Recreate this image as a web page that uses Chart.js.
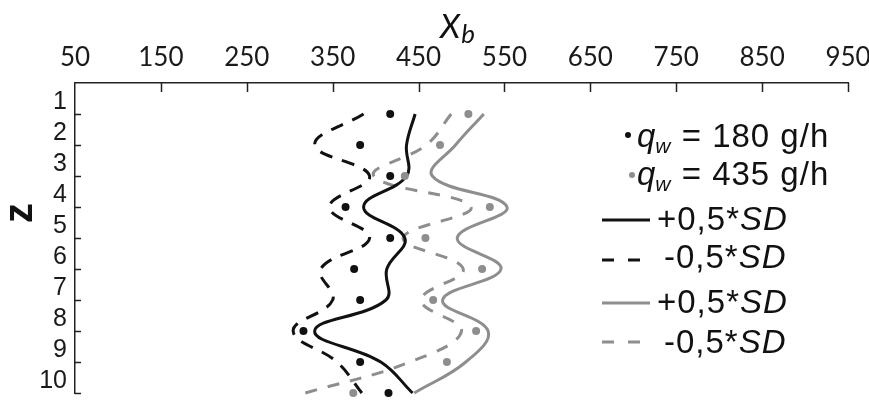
<!DOCTYPE html>
<html>
<head>
<meta charset="utf-8">
<script src="https://cdn.jsdelivr.net/npm/chart.js@4/dist/chart.umd.min.js"></script>
<style>
  html, body { margin: 0; padding: 0; background: #ffffff; }
  canvas { display: block; }
</style>
</head>
<body>
<canvas id="chart" width="869" height="403"></canvas>
<script>
// Layer index z (1 = top) and the measured X_b profile for two water flow rates
const zLevels = [1, 2, 3, 4, 5, 6, 7, 8, 9, 10];
const xTicks = [50, 150, 250, 350, 450, 550, 650, 750, 850, 950];

// q_w = 180 g/h
const mean180 = [417, 382, 417, 365, 417, 375, 382, 316, 382, 415];
const plusSD180 = [446, 436, 436, 386, 434, 413, 412, 329, 406, 443];
const minusSD180 = [386, 329, 393, 346, 393, 336, 350, 304, 355, 384];

// q_w = 435 g/h
const mean435 = [508, 475, 434, 533, 458, 524, 467, 517, 483, 374];
const plusSD435 = [526, 493, 466, 553, 495, 546, 478, 531, 505, 445];
const minusSD435 = [488, 459, 398, 511, 432, 502, 453, 500, 440, 318];

const BLACK = '#111111';
const GREY = '#8e8e8e';

const toPoints = (vals) => vals.map((v, i) => ({ x: v, y: zLevels[i] }));

function dotSet(label, vals, color) {
  return {
    label, data: toPoints(vals), showLine: false,
    pointRadius: 4, pointHoverRadius: 4, pointBorderWidth: 0,
    pointBackgroundColor: color, borderColor: color, clip: false
  };
}
function curveSet(label, vals, color, dash) {
  return {
    label, data: toPoints(vals), showLine: true, pointRadius: 0,
    borderColor: color, borderWidth: 3, borderDash: dash || [],
    tension: 0.4, clip: false, fill: false
  };
}

// Inside tick marks, axis titles and the legend block
const decorations = {
  id: 'decorations',
  afterDraw(chart) {
    const ctx = chart.ctx;
    const xs = chart.scales.x, ys = chart.scales.y;
    const area = chart.chartArea;
    ctx.save();
    ctx.strokeStyle = '#222';
    ctx.lineWidth = 1.5;
    xTicks.slice(1).forEach(v => {
      const px = Math.round(xs.getPixelForValue(v)) + 0.5;
      ctx.beginPath(); ctx.moveTo(px, area.top); ctx.lineTo(px, area.top + 9); ctx.stroke();
    });
    zLevels.forEach(z => {
      const py = Math.round(ys.getPixelForValue(z)) + 0.5;
      ctx.beginPath(); ctx.moveTo(area.left, py); ctx.lineTo(area.left + 6, py); ctx.stroke();
    });

    // X_b title
    ctx.fillStyle = '#111';
    ctx.textBaseline = 'alphabetic';
    ctx.textAlign = 'left';
    const cx = (area.left + area.right) / 2;
    ctx.font = 'italic 33px Lato';
    const wX = ctx.measureText('X').width;
    ctx.font = 'italic 26px Lato';
    const wb = ctx.measureText('b').width;
    const startX = cx - (wX + wb + 1) / 2 - 4;
    ctx.font = 'italic 33px Lato';
    ctx.fillText('X', startX, 38);
    ctx.font = 'italic 26px Lato';
    ctx.fillText('b', startX + wX + 1, 43);

    // z title, rotated
    ctx.save();
    ctx.translate(21, 213);
    ctx.rotate(-Math.PI / 2);
    ctx.font = 'bold 40px "Liberation Sans"';
    ctx.textAlign = 'center';
    ctx.textBaseline = 'middle';
    ctx.fillText('z', 0, 0);
    ctx.restore();

    // Legend (text set with slight extra tracking)
    const F = '"Liberation Sans"';
    const TRACK = 1;
    function runs(x, base, parts) {
      let cur = x;
      parts.forEach(p => {
        ctx.font = p.f;
        ctx.fillStyle = '#111';
        for (const ch of p.t) {
          ctx.fillText(ch, cur, base + (p.dy || 0));
          cur += ctx.measureText(ch).width + (p.track != null ? p.track : TRACK);
        }
      });
    }
    const qRuns = (val) => [
      { t: 'q', f: 'italic 33px ' + F, track: 0 },
      { t: 'w', f: 'italic 21px ' + F, dy: 6 },
      { t: ' = ' + val + ' g/h', f: '33px ' + F }
    ];
    const sdRuns = (sign) => [
      { t: sign + '0,5*', f: '33px ' + F },
      { t: 'SD', f: 'italic 33px ' + F }
    ];
    ctx.textAlign = 'left';
    ctx.textBaseline = 'alphabetic';

    ctx.fillStyle = BLACK;
    ctx.beginPath(); ctx.arc(628, 135, 3, 0, Math.PI * 2); ctx.fill();
    runs(637, 147, qRuns('180'));

    ctx.fillStyle = GREY;
    ctx.beginPath(); ctx.arc(632, 175, 3, 0, Math.PI * 2); ctx.fill();
    runs(637, 185, qRuns('435'));

    function sample(y, color, dash) {
      ctx.strokeStyle = color;
      ctx.lineWidth = 3;
      ctx.setLineDash(dash);
      ctx.beginPath(); ctx.moveTo(602, y); ctx.lineTo(dash.length ? 641 : 650, y); ctx.stroke();
      ctx.setLineDash([]);
    }
    sample(220, BLACK, []);
    runs(657, 230, sdRuns('+'));
    sample(260, BLACK, [12, 14]);
    runs(664, 268, sdRuns('-'));
    sample(303, GREY, []);
    runs(657, 313, sdRuns('+'));
    sample(342, GREY, [12, 14]);
    runs(664, 353, sdRuns('-'));

    ctx.restore();
  }
};

new Chart(document.getElementById('chart'), {
  type: 'scatter',
  data: {
    datasets: [
      dotSet('q_w = 180 g/h', mean180, BLACK),
      dotSet('q_w = 435 g/h', mean435, GREY),
      curveSet('+0,5*SD (180)', plusSD180, BLACK),
      curveSet('-0,5*SD (180)', minusSD180, BLACK, [13, 10]),
      curveSet('+0,5*SD (435)', plusSD435, GREY),
      curveSet('-0,5*SD (435)', minusSD435, GREY, [12, 11])
    ]
  },
  options: {
    responsive: false,
    animation: false,
    devicePixelRatio: 1,
    layout: { padding: { left: 0, top: 0, right: 21, bottom: 10 } },
    plugins: { legend: { display: false }, tooltip: { enabled: false } },
    scales: {
      x: {
        type: 'linear', position: 'top', min: 50, max: 950,
        afterBuildTicks: (s) => { s.ticks = xTicks.map(v => ({ value: v })); },
        afterFit: (s) => { s.height = 83; s.paddingLeft = 0; s.paddingRight = 0; },
        ticks: {
          padding: 10, color: '#1a1a1a',
          font: { family: 'Lato', size: 26 },
          maxRotation: 0, autoSkip: false
        },
        grid: { display: false, drawTicks: false },
        border: { display: true, color: '#222', width: 1.5 }
      },
      y: {
        type: 'linear', reverse: true, min: 0, max: 10,
        afterBuildTicks: (s) => { s.ticks = zLevels.map(v => ({ value: v })); },
        afterFit: (s) => { s.width = 75; s.paddingTop = 0; s.paddingBottom = 0; },
        ticks: {
          padding: 8, color: '#1a1a1a',
          font: { family: '"Liberation Sans"', size: 25 },
          labelOffset: (c) => (c.tick && c.tick.value === 10 ? -5 : -12),
          autoSkip: false
        },
        grid: { display: false, drawTicks: false },
        border: { display: true, color: '#222', width: 1.5 }
      }
    }
  },
  plugins: [decorations]
});
</script>
</body>
</html>
